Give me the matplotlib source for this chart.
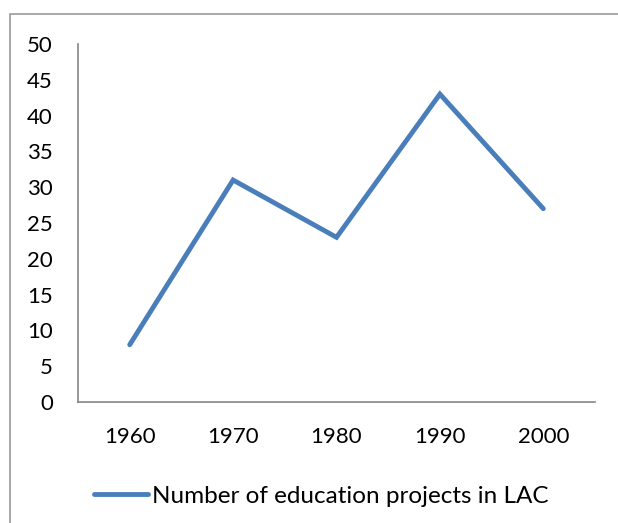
import matplotlib.pyplot as plt
from matplotlib.patches import Rectangle
from matplotlib.lines import Line2D

## data
years = ['1960', '1970', '1980', '1990', '2000']
projects = [8, 31, 23, 43, 27]
series_name = 'Number of education projects in LAC'

plt.rcParams['font.family'] = ['Lato', 'DejaVu Sans']

fig = plt.figure(figsize=(6.18, 5.23), dpi=100)
W, H = 618, 523

## outer chart border (runs off the right/bottom edge)
fig.patches.append(Rectangle((10 / W, -0.1), 1.1, 1 - 14 / H + 0.1,
                             transform=fig.transFigure, fill=False,
                             edgecolor='#9a9a9a', linewidth=1.2))

ax = fig.add_axes([78 / W, 1 - 402 / H, (595 - 78) / W, (402 - 44) / H])
x = range(len(years))
ax.plot(x, projects, color='#4a7ebb', linewidth=3.5, solid_capstyle='round',
        solid_joinstyle='miter')
ax.set_xlim(-0.5, len(years) - 0.5)
ax.set_ylim(0, 50)
ax.set_yticks(range(0, 51, 5))
ax.set_xticks(list(x))
ax.set_xticklabels(years)
for s in ['top', 'right']:
    ax.spines[s].set_visible(False)
for s in ['left', 'bottom']:
    ax.spines[s].set_color('#868686')
    ax.spines[s].set_linewidth(1.2)
ax.tick_params(length=0, labelsize=16, colors='black')
ax.tick_params(axis='y', pad=18)
ax.tick_params(axis='x', pad=18)

## legend at bottom
handle = Line2D([], [], color='#4a7ebb', linewidth=3.5, solid_capstyle='round')
fig.legend([handle], [series_name], loc='center', bbox_to_anchor=(321 / W, 1 - 496 / H),
           frameon=False, fontsize=17.5, handlelength=2.25, handletextpad=0.15)

fig.savefig('out.png', dpi=100)
